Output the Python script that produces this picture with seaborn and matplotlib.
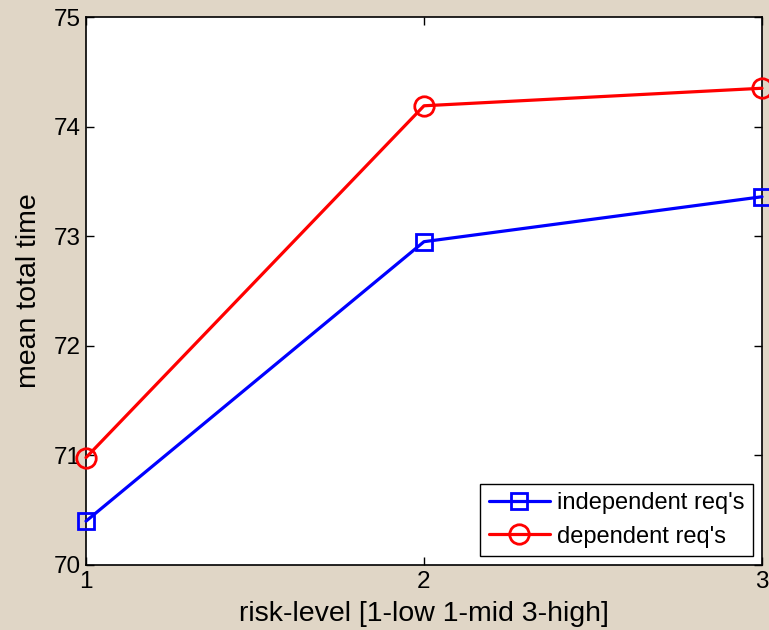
import matplotlib
matplotlib.use("Agg")
import matplotlib.pyplot as plt
import seaborn as sns
import pandas as pd

risk_levels = [1, 2, 3]
independent = [70.40, 72.95, 73.36]
dependent = [70.98, 74.19, 74.35]
series_names = ["independent req's", "dependent req's"]
y_ticks = [70, 71, 72, 73, 74, 75]
x_ticks = [1, 2, 3]

sns.set_style("ticks")
plt.rcParams['font.family'] = ['Liberation Sans', 'DejaVu Sans']
plt.rcParams['text.color'] = 'black'
plt.rcParams['axes.labelcolor'] = 'black'
plt.rcParams['xtick.color'] = 'black'
plt.rcParams['ytick.color'] = 'black'

bg = '#e0d6c6'
fig = plt.figure(figsize=(7.69, 6.30), dpi=100, facecolor=bg)
ax = fig.add_axes([86/769, 65/630, (762-86)/769, (565-17)/630])
ax.set_facecolor('white')

df_ind = pd.DataFrame({"x": risk_levels, "y": independent})
df_dep = pd.DataFrame({"x": risk_levels, "y": dependent})

sns.lineplot(data=df_ind, x="x", y="y", ax=ax, color='#0000ff', linewidth=2.3,
             marker='s', markersize=11.5, markerfacecolor='none', markeredgecolor='#0000ff',
             markeredgewidth=2.0, clip_on=False, label=series_names[0], zorder=3)
sns.lineplot(data=df_dep, x="x", y="y", ax=ax, color='#ff0000', linewidth=2.3,
             marker='o', markersize=14, markerfacecolor='none', markeredgecolor='#ff0000',
             markeredgewidth=2.0, clip_on=False, label=series_names[1], zorder=3)

ax.set_xlim(1, 3)
ax.set_ylim(70, 75)
ax.set_xticks(x_ticks)
ax.set_yticks(y_ticks)
ax.set_xticklabels([str(v) for v in x_ticks])
ax.set_yticklabels([str(v) for v in y_ticks])
ax.tick_params(direction='in', length=6, width=1, top=True, right=True,
               labelsize=17.5, colors='black', pad=4)
for s in ax.spines.values():
    s.set_color('black')
    s.set_linewidth(1.2)

ax.set_xlabel("risk-level [1-low 1-mid 3-high]", fontsize=20.5, labelpad=6, color='black')
ax.set_ylabel("mean total time", fontsize=20.5, labelpad=8, color='black')

leg = ax.legend(loc='lower right', fontsize=17, frameon=True, fancybox=False,
                edgecolor='black', framealpha=1, borderaxespad=0.38,
                handlelength=2.6, handletextpad=0.3, borderpad=0.36, labelspacing=0.48)
leg.get_frame().set_linewidth(1.0)
for t in leg.get_texts():
    t.set_color('black')

fig.savefig("out.png", dpi=100, facecolor=bg)
